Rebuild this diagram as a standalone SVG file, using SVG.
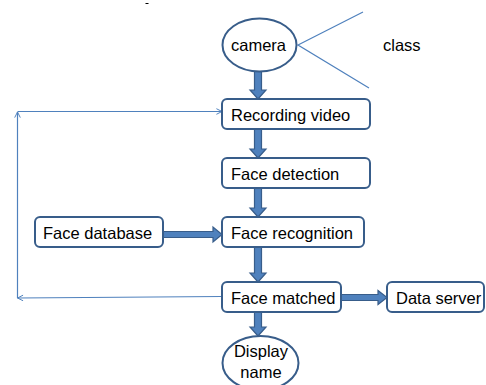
<svg xmlns="http://www.w3.org/2000/svg" width="486" height="385" viewBox="0 0 486 385">
  <style>
    .box { fill: #ffffff; stroke: #385d8a; stroke-width: 2; }
    .lbl { font-family: "Liberation Sans", Arial, sans-serif; font-size: 16.5px; fill: #000000; }
    .block { fill: #4f81bd; stroke: #385d8a; stroke-width: 1.2; stroke-linejoin: miter; }
    .thin { fill: none; stroke: #4f81bd; stroke-width: 1.2; }
  </style>
  <defs>
    <marker id="open" viewBox="0 0 10 10" refX="9" refY="5" markerWidth="7" markerHeight="7" markerUnits="userSpaceOnUse" orient="auto">
      <path d="M1,1 L9,5 L1,9" fill="none" stroke="#4f81bd" stroke-width="1.4"/>
    </marker>
  </defs>
  <rect width="486" height="385" fill="#ffffff"/>

  <!-- stray mark at top -->
  <line x1="145.5" y1="3.5" x2="148.5" y2="3.5" stroke="#000000" stroke-width="1"/>

  <g id="connectors">
    <!-- main flow (block arrows) -->
    <polygon class="block" points="254.5,70 261.5,70 261.5,90 266,90 258,99 250,90 254.5,90"/>
    <polygon class="block" points="254.5,129 261.5,129 261.5,149 266,149 258,158 250,149 254.5,149"/>
    <polygon class="block" points="254.5,188 261.5,188 261.5,208 266,208 258,217 250,208 254.5,208"/>
    <polygon class="block" points="254.5,247 261.5,247 261.5,273 266,273 258,282 250,273 254.5,273"/>
    <polygon class="block" points="254.5,312 261.5,312 261.5,327 266,327 258,336 250,327 254.5,327"/>
    <polygon class="block" points="163,231.5 213,231.5 213,227 222,234.5 213,242 213,237.5 163,237.5"/>
    <polygon class="block" points="341,294.5 378,294.5 378,290.5 387,297.5 378,304.5 378,300.5 341,300.5"/>
    <!-- feedback loop -->
    <path class="thin" d="M222,296.5 L17.5,298" marker-end="url(#open)"/>
    <path class="thin" d="M17.5,298 L17.5,112" marker-end="url(#open)"/>
    <path class="thin" d="M17.5,111.5 L222,111.5" marker-end="url(#open)"/>
    <!-- camera lines -->
    <path class="thin" d="M363,12 L298,45 L369,88"/>
  </g>

  <g id="camera">
    <ellipse class="box" cx="259.5" cy="45" rx="37" ry="26.5"/>
    <text class="lbl" x="231" y="51">camera</text>
  </g>
  <g id="class">
    <text class="lbl" x="383" y="51">class</text>
  </g>
  <g id="recording-video">
    <rect class="box" x="222" y="99" width="148" height="30" rx="5"/>
    <text class="lbl" x="231" y="120.5">Recording video</text>
  </g>
  <g id="face-detection">
    <rect class="box" x="222" y="158" width="148" height="30" rx="5"/>
    <text class="lbl" x="231" y="180">Face detection</text>
  </g>
  <g id="face-database">
    <rect class="box" x="35" y="217" width="128" height="30" rx="5"/>
    <text class="lbl" x="43" y="239">Face database</text>
  </g>
  <g id="face-recognition">
    <rect class="box" x="222" y="217" width="142" height="30" rx="5"/>
    <text class="lbl" x="231" y="239">Face recognition</text>
  </g>
  <g id="face-matched">
    <rect class="box" x="222" y="282" width="119" height="30" rx="5"/>
    <text class="lbl" x="231" y="304">Face matched</text>
  </g>
  <g id="data-server">
    <rect class="box" x="387" y="282" width="97" height="30" rx="5"/>
    <text class="lbl" x="396" y="304">Data server</text>
  </g>
  <g id="display-name">
    <ellipse class="box" cx="260.5" cy="363" rx="38" ry="27"/>
    <text class="lbl" x="261" y="357" text-anchor="middle">Display</text>
    <text class="lbl" x="261" y="378" text-anchor="middle">name</text>
  </g>
</svg>
